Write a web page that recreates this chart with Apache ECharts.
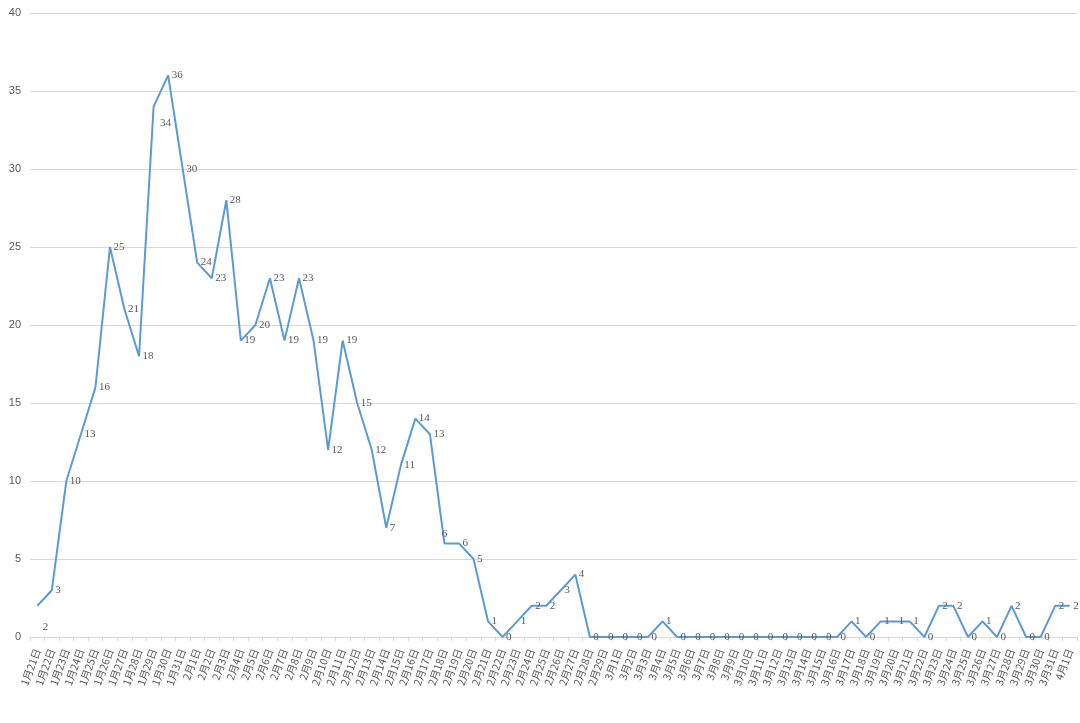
<!DOCTYPE html>
<html><head><meta charset="utf-8">
<script src="https://cdn.jsdelivr.net/npm/echarts@6/dist/echarts.min.js"></script>
<style>html,body{margin:0;padding:0;background:#fff}#c{width:1080px;height:723px}</style>
</head><body><div id="c"></div>
<script>
const categories = [
 "1月21日","1月22日","1月23日","1月24日","1月25日","1月26日","1月27日","1月28日","1月29日","1月30日","1月31日",
 "2月1日","2月2日","2月3日","2月4日","2月5日","2月6日","2月7日","2月8日","2月9日","2月10日",
 "2月11日","2月12日","2月13日","2月14日","2月15日","2月16日","2月17日","2月18日","2月19日","2月20日",
 "2月21日","2月22日","2月23日","2月24日","2月25日","2月26日","2月27日","2月28日","2月29日",
 "3月1日","3月2日","3月3日","3月4日","3月5日","3月6日","3月7日","3月8日","3月9日","3月10日",
 "3月11日","3月12日","3月13日","3月14日","3月15日","3月16日","3月17日","3月18日","3月19日","3月20日",
 "3月21日","3月22日","3月23日","3月24日","3月25日","3月26日","3月27日","3月28日","3月29日","3月30日",
 "3月31日","4月1日"];
const values = [
 2,3,10,13,16,25,21,18,34,36,30,
 24,23,28,19,20,23,19,23,19,12,
 19,15,12,7,11,14,13,6,6,5,
 1,0,1,2,2,3,4,0,0,
 0,0,0,1,0,0,0,0,0,0,
 0,0,0,0,0,0,1,0,1,1,
 1,0,2,2,0,1,0,2,0,0,
 2,2];
const yTicks = {min:0, max:40, interval:5};

const labelFont = {fontFamily:'"Liberation Serif", serif', fontSize:11, color:'#595959'};
const data = values.map((v,i)=>{
  const d = {value:v};
  if (i===0) d.label = {position:[6,16]};
  if (i===8) d.label = {position:[7,12]};
  if (i===28) d.label = {position:'top'};
  return d;
});

const chart = echarts.init(document.getElementById('c'));
chart.setOption({
  animation:false,
  grid:{left:30, right:3, top:13, bottom:86},
  xAxis:{type:'category', data:categories, boundaryGap:true,
    axisLine:{lineStyle:{color:'#d9d9d9'}},
    axisTick:{show:true, length:4, lineStyle:{color:'#d9d9d9'}},
    axisLabel:{interval:0, rotate:70, fontSize:10.5, color:'#595959', margin:12,
      fontFamily:'"Noto Sans CJK SC", sans-serif'}},
  yAxis:{type:'value', min:yTicks.min, max:yTicks.max, interval:yTicks.interval,
    axisLine:{show:false}, axisTick:{show:false},
    splitLine:{lineStyle:{color:'#d9d9d9'}},
    axisLabel:{fontSize:11, color:'#595959', margin:9,
      fontFamily:'"Liberation Sans Narrow", "Liberation Sans", sans-serif'}},
  series:[{type:'line', data:data, symbol:'circle', symbolSize:1, showSymbol:true,
    itemStyle:{color:'rgba(0,0,0,0)'},
    lineStyle:{color:'#5b9bd5', width:2},
    labelLayout:{hideOverlap:false},
    label:Object.assign({show:true, position:'right', distance:3}, labelFont)}]
});
</script></body></html>
